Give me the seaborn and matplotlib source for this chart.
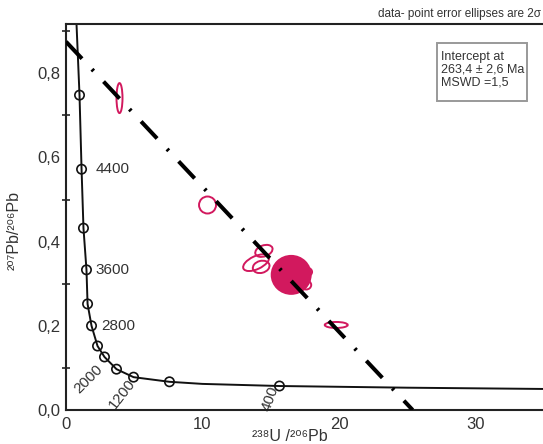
import seaborn as sns
import matplotlib.pyplot as plt
from matplotlib.patches import Ellipse, Rectangle
from matplotlib.transforms import ScaledTranslation
from matplotlib.ticker import MultipleLocator

# concordia curve (Tera-Wasserburg)
curve_x = [0.77, 0.99, 1.14, 1.28, 1.50, 1.58, 1.87, 2.31, 2.82, 3.70, 4.95, 7.58, 10.0, 15.64, 25.0, 34.95]
curve_y = [0.917, 0.748, 0.572, 0.432, 0.333, 0.252, 0.200, 0.152, 0.126, 0.097, 0.078, 0.067, 0.062, 0.057, 0.053, 0.050]
# age markers on the curve
mark_x = [0.99, 1.14, 1.28, 1.50, 1.58, 1.87, 2.31, 2.82, 3.70, 4.95, 7.58, 15.64]
mark_y = [0.748, 0.572, 0.432, 0.333, 0.252, 0.200, 0.152, 0.126, 0.097, 0.078, 0.067, 0.057]

# age labels: text, x, y, rotation
age_txt = ['4400', '3600', '2800', '2000', '1200', '400']
age_x = [2.16, 2.16, 2.55, 1.62, 4.1, 15.0]
age_y = [0.572, 0.333, 0.200, 0.074, 0.038, 0.026]
age_rot = [0, 0, 0, 45, 52, 70]

# discordia line end points
disc_x = [0.0, 25.4]
disc_y = [0.875, 0.0]

# error ellipses: centre, size in pixels, angle, filled
ell_x = [3.92, 10.37, 13.93, 14.5, 14.3, 17.7, 17.6, 16.5, 19.8]
ell_y = [0.741, 0.487, 0.350, 0.378, 0.340, 0.328, 0.297, 0.321, 0.202]
ell_w = [6, 17, 28, 18, 17, 9, 10, 39, 23]
ell_h = [30, 17, 13, 11, 12, 8, 9, 38, 6]
ell_ang = [0, 0, 25, 20, 15, 0, 0, 0, 0]
ell_fill = [False, False, False, False, False, False, False, True, False]

crimson = '#D2195E'
grey = '#333333'

sns.set_style('white')
plt.rcParams['font.family'] = ['Liberation Sans', 'DejaVu Sans']

fig = plt.figure(figsize=(5.43, 4.44), dpi=100)
ax = fig.add_axes([66 / 543, 34 / 444, 477 / 543, 386 / 444])

for x, y, w, h, a, f in zip(ell_x, ell_y, ell_w, ell_h, ell_ang, ell_fill):
    tr = fig.dpi_scale_trans + ScaledTranslation(x, y, ax.transData)
    e = Ellipse((0, 0), w / 100, h / 100, angle=a, transform=tr,
                facecolor=crimson if f else 'none', edgecolor=crimson,
                linewidth=1.4, zorder=3)
    ax.add_patch(e)

ax.plot(disc_x, disc_y, color='black', linewidth=2.9,
        dashes=(5.8, 3.6, 0.6, 3.6), dash_capstyle='butt', zorder=4)

sns.lineplot(x=curve_x, y=curve_y, sort=False, color='#111111', linewidth=1.4, ax=ax, zorder=2)
sns.scatterplot(x=mark_x, y=mark_y, marker='o', s=45, facecolor='none',
                edgecolor='#111111', linewidth=1.2, ax=ax, zorder=5)

for t, x, y, r in zip(age_txt, age_x, age_y, age_rot):
    ha = 'left' if r == 0 else 'center'
    ax.text(x, y, t, fontsize=11, color=grey, ha=ha, va='center', rotation=r,
            rotation_mode='anchor', zorder=1)

ax.set_xlim(0, 34.95)
ax.set_ylim(0, 0.917)
ax.set_xticks([0, 10, 20, 30])
ax.set_xticklabels(['0', '10', '20', '30'])
ax.set_yticks([0, 0.2, 0.4, 0.6, 0.8])
ax.set_yticklabels(['0,0', '0,2', '0,4', '0,6', '0,8'])
ax.yaxis.set_minor_locator(MultipleLocator(0.1))
ax.tick_params(axis='x', direction='in', length=4, width=1.2, labelsize=12, labelcolor=grey, pad=5)
ax.tick_params(axis='y', which='both', direction='inout', length=6, width=1.2, labelsize=12,
               labelcolor=grey, pad=1)
ax.tick_params(axis='y', which='minor', left=True)
for s in ['left', 'bottom', 'top']:
    ax.spines[s].set_linewidth(1.5)
    ax.spines[s].set_color('#222222')
ax.spines['right'].set_visible(False)

ax.set_xlabel('²³⁸U /²⁰⁶Pb', fontsize=11.5, color=grey, va='top')
ax.xaxis.set_label_coords((290 - 66) / 477, -19 / 386)
ax.set_ylabel('²⁰⁷Pb/²⁰⁶Pb', fontsize=11.5, color=grey)
ax.yaxis.set_label_coords(-44 / 477, (410 - 230) / 386)

# result box
fig.add_artist(Rectangle((437 / 543, 1 - 101 / 444), 90 / 543, 58 / 444, transform=fig.transFigure,
                         facecolor='white', edgecolor='#999999', linewidth=1.4))
fig.text(441 / 543, 1 - 51 / 444, 'Intercept at\n263,4 ± 2,6 Ma\nMSWD =1,5',
         fontsize=9, color=grey, ha='left', va='top', linespacing=1.1)

fig.text(541 / 543, 1 - 14 / 444, 'data- point error ellipses are 2σ', fontsize=8.5,
         color=grey, ha='right', va='center')

fig.savefig('out.png', dpi=100)
